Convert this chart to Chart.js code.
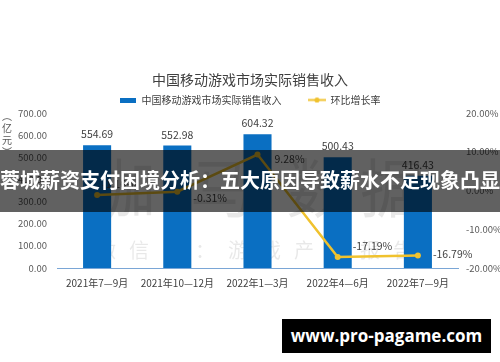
<!DOCTYPE html>
<html>
<head>
<meta charset="utf-8">
<script src="https://cdn.jsdelivr.net/npm/chart.js@4.4.1/dist/chart.umd.min.js"></script>
<style>
html,body{margin:0;padding:0;background:#fff;}
#wrap{position:relative;width:500px;height:362px;overflow:hidden;background:#fff;}
#c{position:absolute;left:0;top:0;}
#band{position:absolute;left:0;top:150px;width:500px;height:62px;background:rgba(0,0,0,0.62);color:#fff;font-family:"Noto Sans CJK SC",sans-serif;font-weight:bold;font-size:20px;line-height:60px;text-align:center;white-space:nowrap;}
#site{position:absolute;left:282px;top:319px;width:209px;height:34px;background:#000;color:#fff;font-family:"Open Sans",sans-serif;font-weight:bold;font-size:17px;line-height:34px;text-align:center;white-space:nowrap;}
</style>
</head>
<body>
<div id="wrap">
  <canvas id="c" width="500" height="362"></canvas>
  <div id="band"></div>
  <div id="site"></div>
</div>
<script>
// ---- data ----
const chartTitle = '中国移动游戏市场实际销售收入';
const categories = ['2021年7—9月', '2021年10—12月', '2022年1—3月', '2022年4—6月', '2022年7—9月'];
const revenueLabel = '中国移动游戏市场实际销售收入';
const revenue = [554.69, 552.98, 604.32, 500.43, 416.43];
const growthLabel = '环比增长率';
const growthRate = [-1.16, -0.31, 9.28, -17.19, -16.79];
const revenueTicks = [0, 100, 200, 300, 400, 500, 600, 700];
const rateTicks = [-20, -10, 0, 10, 20];
const unitLabel = '（亿元）';
const bandText = '蓉城薪资支付困境分析：五大原因导致薪水不足现象凸显';
const siteText = 'www.pro-pagame.com';
const watermarkBig = '伽马数据';
const watermarkSmall = '微信号：游戏产业报告';

// ---- styles ----
const BAR_COLOR = '#0A6FC2';
const LINE_COLOR = '#F0C22E';
const TEXT_COLOR = '#404040';
const TICK_COLOR = '#595959';
const FONT = '"Noto Sans CJK SC", "Noto Sans", sans-serif';
const lineLabelOffsets = [[5, -11], [16, 6], [17, 4.5], [15, -11], [15, -1.5]];

document.getElementById('band').textContent = bandText;
document.getElementById('site').textContent = siteText;

function swatchBar() {
  const c = document.createElement('canvas'); c.width = 16; c.height = 5;
  const g = c.getContext('2d'); g.fillStyle = BAR_COLOR; g.fillRect(0, 0, 16, 5);
  return c;
}
function swatchLine() {
  const c = document.createElement('canvas'); c.width = 18; c.height = 7;
  const g = c.getContext('2d');
  g.strokeStyle = LINE_COLOR; g.lineWidth = 2;
  g.beginPath(); g.moveTo(0, 3.5); g.lineTo(18, 3.5); g.stroke();
  g.fillStyle = LINE_COLOR; g.beginPath(); g.arc(9, 3.5, 2.6, 0, Math.PI * 2); g.fill();
  return c;
}
const swatches = [swatchBar(), swatchLine()];

Chart.defaults.font.family = FONT;

const watermarkPlugin = {
  id: 'watermark',
  beforeDatasetsDraw(chart) {
    const ctx = chart.ctx;
    ctx.save();
    ctx.fillStyle = 'rgba(0,0,0,0.09)';
    ctx.textAlign = 'center';
    ctx.textBaseline = 'middle';
    ctx.font = '64px ' + FONT;
    const bigX = [124, 222, 318, 392];
    [...watermarkBig].forEach((ch, i) => ctx.fillText(ch, bigX[i], 188));
    ctx.font = '20px ' + FONT;
    [...watermarkSmall].forEach((ch, i) => ctx.fillText(ch, 106 + 33 * i, 250));
    ctx.restore();
  }
};

const labelPlugin = {
  id: 'valueLabels',
  afterDatasetsDraw(chart) {
    const ctx = chart.ctx;
    ctx.save();
    ctx.fillStyle = TEXT_COLOR;
    ctx.textBaseline = 'middle';
    ctx.font = '10.5px ' + FONT;
    ctx.textAlign = 'center';
    chart.getDatasetMeta(0).data.forEach((bar, i) => {
      ctx.fillText(revenue[i].toFixed(2), bar.x, bar.y - 11);
    });
    ctx.textAlign = 'left';
    chart.getDatasetMeta(1).data.forEach((pt, i) => {
      const [dx, dy] = lineLabelOffsets[i];
      ctx.fillText(growthRate[i].toFixed(2) + '%', pt.x + dx, pt.y + dy);
    });
    ctx.restore();
  },
  afterDraw(chart) {
    const ctx = chart.ctx;
    ctx.save();
    ctx.fillStyle = TICK_COLOR;
    ctx.font = '10px ' + FONT;
    ctx.textAlign = 'center';
    ctx.textBaseline = 'middle';
    const vert = { '（': '︵', '）': '︶' };
    [...unitLabel].forEach((ch, i) => {
      ctx.fillText(vert[ch] || ch, 7, 116 + 12 * i);
    });
    ctx.restore();
  }
};

new Chart(document.getElementById('c'), {
  type: 'bar',
  data: {
    labels: categories,
    datasets: [
      {
        type: 'bar',
        label: revenueLabel,
        data: revenue,
        yAxisID: 'y',
        backgroundColor: BAR_COLOR,
        barPercentage: 0.35,
        categoryPercentage: 1.0,
        order: 1
      },
      {
        type: 'line',
        label: growthLabel,
        data: growthRate,
        yAxisID: 'y1',
        borderColor: LINE_COLOR,
        backgroundColor: LINE_COLOR,
        borderWidth: 2.5,
        pointRadius: 3,
        pointBorderWidth: 0,
        pointBackgroundColor: LINE_COLOR,
        tension: 0,
        order: 0
      }
    ]
  },
  options: {
    responsive: false,
    animation: false,
    devicePixelRatio: 1,
    layout: { padding: { top: 0, left: 0, right: 0, bottom: 70 } },
    plugins: {
      tooltip: { enabled: false },
      title: {
        display: true,
        text: chartTitle,
        color: TEXT_COLOR,
        font: { size: 14, weight: 'normal', family: FONT },
        padding: { top: 71.6, bottom: -20.4 }
      },
      legend: {
        display: true,
        position: 'top',
        maxHeight: 45,
        labels: {
          usePointStyle: true,
          pointStyleWidth: 17,
          boxHeight: 10,
          padding: 27,
          color: TEXT_COLOR,
          font: { size: 10, family: FONT },
          generateLabels(chart) {
            return chart.data.datasets.map((ds, i) => ({
              text: ds.label,
              pointStyle: swatches[i],
              fillStyle: i === 0 ? BAR_COLOR : LINE_COLOR,
              strokeStyle: 'rgba(0,0,0,0)',
              lineWidth: 0,
              hidden: !chart.isDatasetVisible(i),
              datasetIndex: i,
              fontColor: TEXT_COLOR
            }));
          }
        }
      }
    },
    scales: {
      x: {
        grid: { display: false, drawTicks: false },
        border: { display: true, color: '#7AA6D6', width: 1 },
        ticks: { color: TEXT_COLOR, font: { size: 10, family: FONT }, padding: 9, maxRotation: 0, autoSkip: false },
        afterFit(scale) { scale.height = 24; }
      },
      y: {
        position: 'left',
        min: revenueTicks[0],
        max: revenueTicks[revenueTicks.length - 1],
        afterBuildTicks(scale) { scale.ticks = revenueTicks.map(v => ({ value: v })); },
        grid: { display: false, drawTicks: false },
        border: { display: false },
        ticks: { color: TICK_COLOR, font: { size: 9.5, family: FONT }, padding: 10, callback: v => Number(v).toFixed(2) },
        afterFit(scale) { scale.width = 57; }
      },
      y1: {
        position: 'right',
        min: rateTicks[0],
        max: rateTicks[rateTicks.length - 1],
        afterBuildTicks(scale) { scale.ticks = rateTicks.map(v => ({ value: v })); },
        grid: { display: false, drawTicks: false },
        border: { display: false },
        ticks: { color: TICK_COLOR, font: { size: 9.5, family: FONT }, padding: 8, callback: v => Number(v).toFixed(2) + '%' },
        afterFit(scale) { scale.width = 42; }
      }
    }
  },
  plugins: [watermarkPlugin, labelPlugin]
});
</script>
</body>
</html>
